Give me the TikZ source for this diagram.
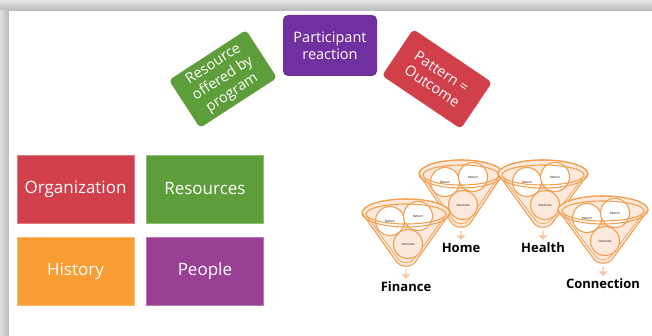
\documentclass[tikz,border=0pt]{standalone}
\usepackage{fontspec}
\setmainfont{Open Sans}
\usetikzlibrary{positioning, shapes.arrows}

\definecolor{orgred}{HTML}{D13F4B}
\definecolor{resgreen}{HTML}{5E9E3A}
\definecolor{historange}{HTML}{F89C33}
\definecolor{peoplepurple}{HTML}{993F94}
\definecolor{reactpurple}{HTML}{7030A0}
\definecolor{rimorange}{HTML}{F0A050}
\definecolor{cupfill}{HTML}{FDE9DC}
\definecolor{dropfill}{HTML}{F8C4A4}

\begin{document}
\begin{tikzpicture}[x=1pt, y=1pt, node distance=12pt and 12pt,
      tile/.style={fill=#1, draw=#1!70!white, minimum width=117pt,
                   minimum height=68pt, text=white,
                   font=\fontsize{17}{20}\selectfont},
      card/.style={fill=#1, rounded corners=5pt, text=white, align=center,
                   inner sep=2pt, font=\fontsize{14.5}{17}\selectfont},
      rim/.style={draw=rimorange, line width=1.1pt},
      cup/.style={circle, draw=rimorange, line width=1.1pt, fill=white,
                  minimum size=29pt, inner sep=0pt,
                  font=\fontsize{3}{4}\selectfont},
      drop/.style={single arrow, fill=dropfill, minimum height=9pt,
                   minimum width=9pt, single arrow head extend=1.5pt,
                   shape border rotate=270, inner sep=0pt},
      tag/.style={font=\bfseries\fontsize{13}{15}\selectfont}]
    \useasboundingbox (0,0) rectangle (652,335);
    % screenshot frame
    \fill[gray!45] (0,0) rectangle (652,335);
    \shade[top color=gray!20, bottom color=gray!55] (0,324) rectangle (652,335);
    \shade[left color=gray!25, right color=gray!55] (0,0) rectangle (9,324);
    \fill[white] (9,0) rectangle (652,324);

    % four tiles
    \node[tile=orgred]                   (org)    at (75.5,146) {Organization};
    \node[tile=resgreen, right=of org]   (res)    {Resources};
    \node[tile=historange, below=14pt of org] (hist) {History};
    \node[tile=peoplepurple, right=of hist]   (people) {People};

    % cards on top
    \node[card=reactpurple, minimum width=94pt, minimum height=61pt]
          (react)   at (330,289.5) {Participant\\reaction};
    \node[card=resgreen, rounded corners=4pt, minimum width=92pt,
          minimum height=57pt, rotate=33]
          (offer)   at (223,256) {Resource\\offered by\\program};
    \node[card=orgred, rounded corners=4pt, minimum width=95pt,
          minimum height=56pt, rotate=-34]
          (pattern) at (437,256) {Pattern =\\Outcome};

    % funnels, back ones first
    \foreach \px/\py/\fn/\lbl/\rx in {461/161/home/Home/42,
        543/161/health/Health/45, 406/122/fin/Finance/44,
        603/125/conn/Connection/45} {
      \begin{scope}[shift={(\px,\py)}]
        \filldraw[rim, fill=cupfill] (-\rx,0) -- (-10,-48)
            .. controls (-6,-55) and (6,-55) .. (10,-48) -- (\rx,0)
            arc[start angle=0, end angle=180, x radius=\rx, y radius=14];
        % inner line of the cone
        \draw[rim, line width=0.7pt] (-\rx+4,-2) -- (-8,-46)
            .. controls (-5,-51) and (5,-51) .. (8,-46) -- (\rx-4,-2);
        \node[cup] (\fn-a) at (-16,-8) {Pattern};
        \node[cup] (\fn-b) at (12,-3)  {Pattern};
        \node[cup, fill=cupfill] (\fn-c) at (2,-31) {Outcome};
        \draw[rim] (0,0) ellipse[x radius=\rx, y radius=14];
        \draw[rim] (0,-1) ellipse[x radius=\rx-4, y radius=10];
        \node[drop] (\fn-drop) at (0,-61) {};
        \node[tag]  (\fn-tag)  at (0,-74) {\lbl};
      \end{scope}
    }
  \end{tikzpicture}
\end{document}
